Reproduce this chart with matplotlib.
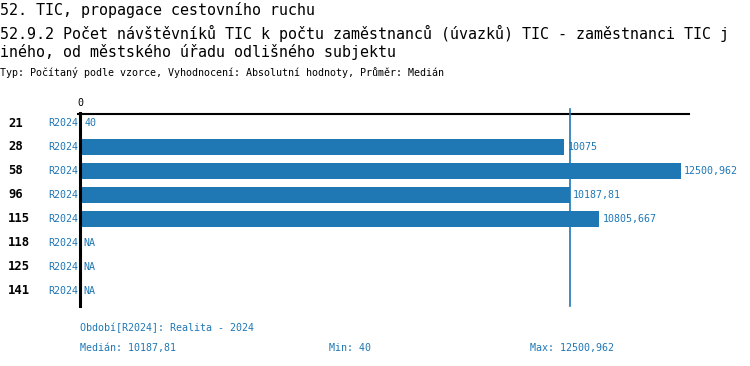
import matplotlib
matplotlib.use("Agg")
import matplotlib.pyplot as plt
import numpy as np

# data
categories = ["21", "28", "58", "96", "115", "118", "125", "141"]
period_labels = ["R2024"] * 8
values = [40, 10075, 12500.962, 10187.81, 10805.667, None, None, None]
value_texts = ["40", "10075", "12500,962", "10187,81", "10805,667", "NA", "NA", "NA"]
median = 10187.81
title_lines = ["52. TIC, propagace cestovního ruchu",
               "52.9.2 Počet návštěvníků TIC k počtu zaměstnanců (úvazků) TIC - zaměstnanci TIC j",
               "iného, od městského úřadu odlišného subjektu"]
subtitle = "Typ: Počítaný podle vzorce, Vyhodnocení: Absolutní hodnoty, Průměr: Medián"
footer_period = "Období[R2024]: Realita - 2024"
footer_stats = ["Medián: 10187,81", "Min: 40", "Max: 12500,962"]

BLUE = "#1f77b4"
W, H = 750, 366
mono = "DejaVu Sans Mono"

fig = plt.figure(figsize=(W / 100, H / 100), dpi=100)

# axes in pixel terms: x from 80 to 689, y from 114 to 306
x0, x1, ytop, ybot = 80, 689, 114, 306
ax = fig.add_axes([x0 / W, 1 - ybot / H, (x1 - x0) / W, (ybot - ytop) / H])
px_per_unit = 601 / 12500.962
ax.set_xlim(0, (x1 - x0) / px_per_unit)
row_px = 24
first_row = 123
ax.set_ylim((ybot - first_row) / row_px, (ytop - first_row) / row_px)

ypos = np.arange(len(categories))
bar_vals = [v if v is not None else 0 for v in values]
ax.barh(ypos, bar_vals, height=16 / row_px, color=BLUE, zorder=2)

for s in ax.spines.values():
    s.set_visible(False)
ax.set_xticks([])
ax.set_yticks([])

# top line and zero axis
ax.axhline((ytop - first_row) / row_px, color="black", lw=1.5, xmin=-0.004, zorder=3, clip_on=False)
ax.plot([0, 0], [(ybot - first_row) / row_px, (ytop - 1 - first_row) / row_px], color="black", lw=2.2,
        zorder=3, clip_on=False)
# median line
ax.plot([median, median], [(ybot - first_row) / row_px, (109 - first_row) / row_px], color=BLUE, lw=1.2,
        zorder=3, clip_on=False)

off = 3 / px_per_unit
for i, (v, t) in enumerate(zip(bar_vals, value_texts)):
    ax.text(v + off, i, t, color=BLUE, fontsize=7.2, family=mono, va="center", ha="left")

ax.text(0, (103 - first_row) / row_px, "0", fontsize=7.2, family=mono, ha="center", va="center")

# row labels
for i, (c, p) in enumerate(zip(categories, period_labels)):
    yf = 1 - (first_row + i * row_px) / H
    fig.text(8 / W, yf, c, fontsize=8.8, family=mono, weight="bold", va="center", ha="left")
    fig.text(78 / W, yf, p, fontsize=7.2, family=mono, color=BLUE, va="center", ha="right")

# titles
for txt, y in zip(title_lines, [10, 33, 52]):
    fig.text(0, 1 - y / H, txt, fontsize=10.8, family=mono, va="center", ha="left")
fig.text(0, 1 - 73 / H, subtitle, fontsize=7.2, family=mono, va="center", ha="left")

# footer
fig.text(80 / W, 1 - 328 / H, footer_period, fontsize=7.2, family=mono, color=BLUE, va="center")
for txt, x in zip(footer_stats, [80, 329, 530]):
    fig.text(x / W, 1 - 348 / H, txt, fontsize=7.2, family=mono, color=BLUE, va="center")

fig.savefig("out.png", dpi=100)
